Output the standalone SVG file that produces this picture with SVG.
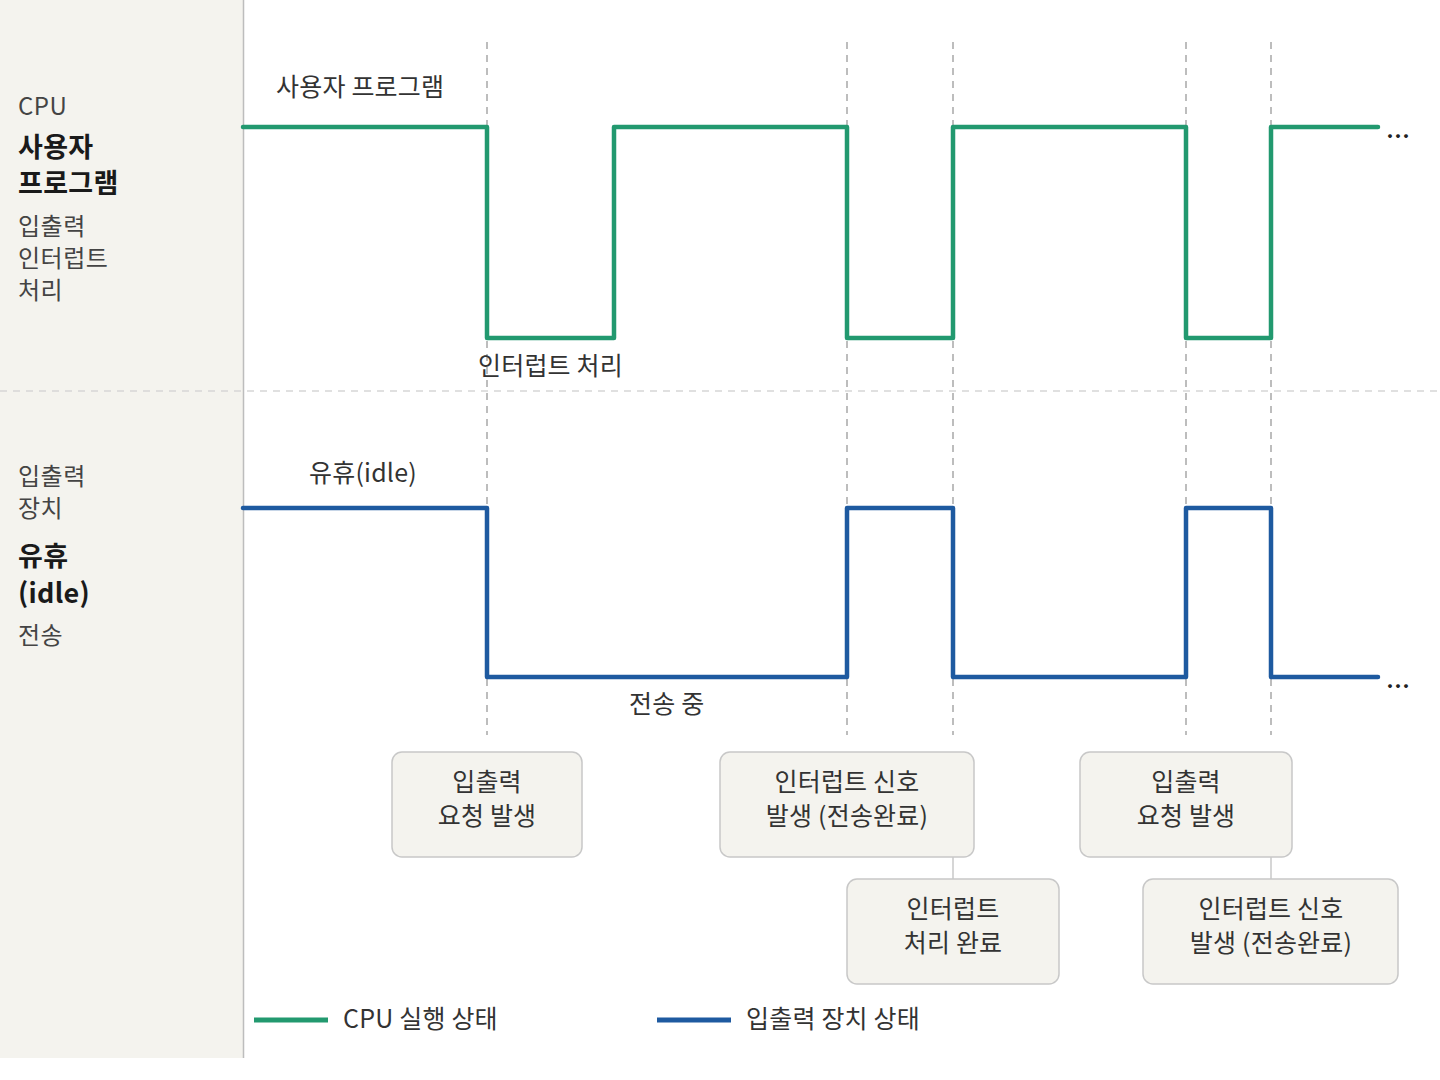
<svg xmlns="http://www.w3.org/2000/svg" width="1440" height="1080" viewBox="0 0 1440 1080">
<style>
text{font-family:"Noto Sans CJK KR","Noto Sans",sans-serif;fill:#333;font-size:25px;letter-spacing:0.2px}
.side{fill:#444;font-size:24px;letter-spacing:0.5px}
.bold{font-weight:bold;fill:#1a1a1a;font-size:27px;letter-spacing:0.3px}
.mid{text-anchor:middle}
.box{fill:#f4f3ee;stroke:#c8c8c8;stroke-width:1.5}
.guide{stroke:#bdbdbd;stroke-width:2;stroke-dasharray:7 6;fill:none}
.cpu{stroke:#22996f;stroke-width:4.5;fill:none;stroke-linejoin:round;stroke-linecap:round}
.io{stroke:#1e5aa0;stroke-width:4.5;fill:none;stroke-linejoin:round;stroke-linecap:round}
.link{stroke:#c8c8c8;stroke-width:1.5}
.dots{fill:#222;font-size:24px;font-weight:bold}
</style>
<rect width="1440" height="1080" fill="#ffffff"/>
<g id="sidebar">
<rect x="0" y="0" width="243" height="1058" fill="#f4f3ee"/>
<line x1="243.5" y1="0" x2="243.5" y2="1058" stroke="#bdbdbd" stroke-width="1.5"/>
<text class="side" x="18" y="115">CPU</text>
<text class="bold" x="18" y="157">사용자</text>
<text class="bold" x="18" y="193">프로그램</text>
<text class="side" x="18" y="235">입출력</text>
<text class="side" x="18" y="267">인터럽트</text>
<text class="side" x="18" y="299">처리</text>
<text class="side" x="18" y="485">입출력</text>
<text class="side" x="18" y="517">장치</text>
<text class="bold" x="18" y="566">유휴</text>
<text class="bold" x="18" y="603">(idle)</text>
<text class="side" x="18" y="644">전송</text>
</g>
<g id="guides">
<line class="guide" x1="0" y1="391" x2="1440" y2="391" style="stroke:#d6d6d6;stroke-width:1.5"/>
<line class="guide" x1="487" y1="42" x2="487" y2="735"/>
<line class="guide" x1="847" y1="42" x2="847" y2="735"/>
<line class="guide" x1="953" y1="42" x2="953" y2="735"/>
<line class="guide" x1="1186" y1="42" x2="1186" y2="735"/>
<line class="guide" x1="1271" y1="42" x2="1271" y2="735"/>
</g>
<g id="connectors">
<path id="cpu-signal" class="cpu" d="M243,127 H487 V338 H614 V127 H847 V338 H953 V127 H1186 V338 H1271 V127 H1378"/>
<path id="io-signal" class="io" d="M243,508 H487 V677 H847 V508 H953 V677 H1186 V508 H1271 V677 H1378"/>
<line class="link" x1="953" y1="857" x2="953" y2="879"/>
<line class="link" x1="1271" y1="857" x2="1271" y2="879"/>
</g>
<g id="signal-labels">
<text x="276" y="96">사용자 프로그램</text>
<text x="478" y="375">인터럽트 처리</text>
<text x="309" y="482">유휴(idle)</text>
<text x="629" y="713">전송 중</text>
<text class="dots" x="1386" y="145">…</text>
<text class="dots" x="1386" y="695">…</text>
</g>
<g id="box-io-request-1">
<rect class="box" x="392" y="752" width="190" height="105" rx="10"/>
<text class="mid" x="487" y="791">입출력</text>
<text class="mid" x="487" y="825">요청 발생</text>
</g>
<g id="box-interrupt-signal-1">
<rect class="box" x="720" y="752" width="254" height="105" rx="10"/>
<text class="mid" x="847" y="791">인터럽트 신호</text>
<text class="mid" x="847" y="825">발생 (전송완료)</text>
</g>
<g id="box-interrupt-done">
<rect class="box" x="847" y="879" width="212" height="105" rx="10"/>
<text class="mid" x="953" y="918">인터럽트</text>
<text class="mid" x="953" y="952">처리 완료</text>
</g>
<g id="box-io-request-2">
<rect class="box" x="1080" y="752" width="212" height="105" rx="10"/>
<text class="mid" x="1186" y="791">입출력</text>
<text class="mid" x="1186" y="825">요청 발생</text>
</g>
<g id="box-interrupt-signal-2">
<rect class="box" x="1143" y="879" width="255" height="105" rx="10"/>
<text class="mid" x="1271" y="918">인터럽트 신호</text>
<text class="mid" x="1271" y="952">발생 (전송완료)</text>
</g>
<g id="legend">
<line x1="254" y1="1020" x2="328" y2="1020" stroke="#22996f" stroke-width="5"/>
<text x="343" y="1028">CPU 실행 상태</text>
<line x1="657" y1="1020" x2="731" y2="1020" stroke="#1e5aa0" stroke-width="5"/>
<text x="746" y="1028">입출력 장치 상태</text>
</g>
</svg>
